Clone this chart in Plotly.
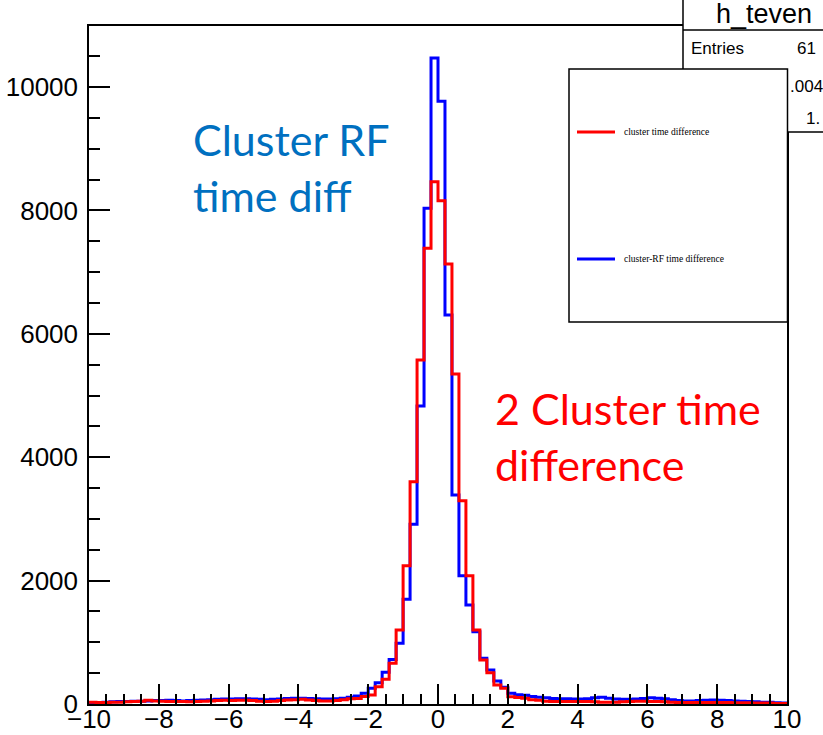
import numpy as np
import plotly.graph_objects as go

# ---------------- data ----------------
x_min, x_max, bin_width = -10.0, 10.0, 0.2

cluster_rf_counts = [
    20, 25, 30, 35, 40, 40, 45, 45, 50, 55,
    55, 60, 55, 50, 55, 60, 65, 70, 75, 80,
    80, 85, 85, 80, 75, 70, 75, 80, 90, 95,
    95, 90, 85, 80, 80, 85, 95, 110, 130, 175,
    254, 345, 514, 723, 983, 1697, 2912, 4830, 8034, 10470,
    9770, 6305, 3387, 2079, 1604, 1172, 740, 551, 373, 270,
    173, 150, 140, 120, 110, 100, 90, 85, 85, 80,
    80, 85, 100, 110, 95, 80, 75, 75, 80, 90,
    100, 95, 85, 70, 55, 50, 50, 55, 60, 65,
    60, 55, 50, 45, 40, 35, 30, 30, 20, 15,
]

cluster_counts = [
    30, 25, 25, 30, 30, 35, 40, 45, 60, 50,
    45, 40, 40, 40, 35, 40, 45, 50, 55, 60,
    55, 60, 60, 55, 45, 40, 45, 55, 65, 70,
    75, 65, 55, 50, 50, 55, 70, 85, 90, 120,
    146, 281, 400, 660, 1199, 2241, 3603, 5575, 7386, 8465,
    8157, 7131, 5348, 3295, 2079, 1199, 713, 507, 308, 254,
    118, 105, 92, 70, 60, 45, 40, 40, 40, 40,
    40, 40, 35, 30, 30, 30, 35, 40, 45, 45,
    40, 40, 35, 30, 25, 25, 25, 25, 25, 25,
    25, 25, 20, 20, 20, 15, 15, 15, 10, 10,
]

x_ticks = [-10, -8, -6, -4, -2, 0, 2, 4, 6, 8, 10]
y_ticks = [0, 2000, 4000, 6000, 8000, 10000]

legend_labels = ["cluster time difference", "cluster-RF time difference"]
stats_title = "h_teven"
stats_rows = [("Entries", "61"), ("", ".004"), ("", "1.")]

# ---------------- geometry ----------------
W, H = 823, 735
PL, PR, PT, PB = 89, 787, 26, 704  # plot frame in pixels


def px(xp):
    return (xp - PL) / (PR - PL)


def py(yp):
    return (PB - yp) / (PB - PT)


edges = np.arange(x_min, x_max + bin_width / 2, bin_width)


def step_xy(counts):
    ys = list(counts) + [counts[-1]]
    return edges, ys


fig = go.Figure()
bx, by = step_xy(cluster_rf_counts)
fig.add_trace(go.Scatter(x=bx, y=by, mode="lines", line=dict(color="rgb(0,0,255)", width=3, shape="hv"),
                         showlegend=False, hoverinfo="skip"))
rx, ry = step_xy(cluster_counts)
fig.add_trace(go.Scatter(x=rx, y=ry, mode="lines", line=dict(color="rgb(255,0,0)", width=3, shape="hv"),
                         showlegend=False, hoverinfo="skip"))

axis_font = dict(family="Liberation Sans, Arial, sans-serif", size=26, color="black")

fig.update_xaxes(range=[x_min, x_max], tickvals=x_ticks, ticks="inside", ticklen=20, tickwidth=1.5,
                 tickcolor="black", showline=True, linecolor="black", linewidth=1.5, mirror=True,
                 showgrid=False, zeroline=False, tickfont=axis_font, automargin=False, ticklabelstandoff=-9,
                 minor=dict(dtick=0.5, tick0=0, ticks="inside", ticklen=10, tickwidth=1.5, tickcolor="black", showgrid=False))
fig.update_yaxes(range=[0, 10990], tickvals=y_ticks, tickformat="d", ticks="inside", ticklen=21, tickwidth=1.5,
                 tickcolor="black", showline=True, linecolor="black", linewidth=1.5, mirror=True,
                 showgrid=False, zeroline=False, tickfont=axis_font, ticklabelstandoff=4, automargin=False,
                 minor=dict(dtick=500, tick0=0, ticks="inside", ticklen=11, tickwidth=1.5, tickcolor="black", showgrid=False))

shapes = []
# stats box
shapes.append(dict(type="rect", xref="paper", yref="paper", x0=px(683), x1=px(840), y0=py(132), y1=py(-5),
                   line=dict(color="black", width=1.5), fillcolor="white", layer="above"))
shapes.append(dict(type="line", xref="paper", yref="paper", x0=px(683), x1=px(840), y0=py(30), y1=py(30),
                   line=dict(color="black", width=1.5), layer="above"))
# legend box
shapes.append(dict(type="rect", xref="paper", yref="paper", x0=px(569), x1=px(787.5), y0=py(322), y1=py(69),
                   line=dict(color="black", width=1.5), fillcolor="white", layer="above"))
legend_colors = ["rgb(255,0,0)", "rgb(0,0,255)"]
legend_y = [132, 259]
for c, yy in zip(legend_colors, legend_y):
    shapes.append(dict(type="line", xref="paper", yref="paper", x0=px(577), x1=px(615), y0=py(yy), y1=py(yy),
                       line=dict(color=c, width=3), layer="above"))

annotations = []
for lab, yy in zip(legend_labels, legend_y):
    annotations.append(dict(xref="paper", yref="paper", x=px(622), y=py(yy), text=lab, showarrow=False,
                            xanchor="left", yanchor="middle",
                            font=dict(family="Liberation Serif, Times New Roman, serif", size=9.5, color="black")))

annotations.append(dict(xref="paper", yref="paper", x=px(714), y=py(14), text=stats_title, showarrow=False,
                        xanchor="left", yanchor="middle",
                        font=dict(family="Liberation Sans, Arial, sans-serif", size=27, color="black")))
stat_y = [49, 86, 118]
stat_vx = [795, 788, 804]
for (name, val), yy, vx in zip(stats_rows, stat_y, stat_vx):
    if name:
        annotations.append(dict(xref="paper", yref="paper", x=px(689), y=py(yy), text=name, showarrow=False,
                                xanchor="left", yanchor="middle",
                                font=dict(family="Liberation Sans, Arial, sans-serif", size=17, color="black")))
    annotations.append(dict(xref="paper", yref="paper", x=px(vx), y=py(yy), text=val, showarrow=False,
                            xanchor="left", yanchor="middle",
                            font=dict(family="Liberation Sans, Arial, sans-serif", size=17, color="black")))

annotations.append(dict(xref="paper", yref="paper", x=px(191), y=py(167), text="Cluster RF<br>time diff",
                        showarrow=False, xanchor="left", yanchor="middle", align="left",
                        font=dict(family="Lato, Open Sans, sans-serif", size=43, color="rgb(0,112,192)")))
annotations.append(dict(xref="paper", yref="paper", x=px(493), y=py(437), text="2 Cluster time<br>difference",
                        showarrow=False, xanchor="left", yanchor="middle", align="left",
                        font=dict(family="Lato, Open Sans, sans-serif", size=43, color="rgb(255,0,0)")))

fig.update_layout(width=W, height=H, margin=dict(l=PL, r=W - PR, t=PT, b=H - PB, pad=0),
                  paper_bgcolor="white", plot_bgcolor="white", shapes=shapes, annotations=annotations,
                  showlegend=False)

fig.write_html("out.html")
